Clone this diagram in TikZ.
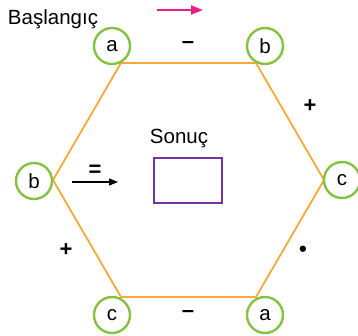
\documentclass[tikz,border=0pt]{standalone}
\usepackage{fontspec}
\setmainfont{Liberation Sans}
\usetikzlibrary{arrows.meta}
\definecolor{hexline}{RGB}{247,169,56}
\definecolor{ring}{RGB}{134,194,66}
\definecolor{result}{RGB}{114,52,160}
\definecolor{dir}{RGB}{232,30,128}

\begin{document}
\begin{tikzpicture}[x=1pt, y=-1pt,
  font=\fontsize{20.5}{23}\selectfont,
  corner/.style={draw=ring, line width=2.4pt, circle, fill=white, minimum size=36pt, inner sep=0pt},
  edge/.style={draw=hexline, line width=1.8pt, line join=miter},
  sign/.style={font=\fontsize{22}{24}\selectfont\bfseries, inner sep=0pt},
  ar/.style={-{Triangle[length=9pt, width=7pt]}, line width=1.2pt}
]
\useasboundingbox (0,0) rectangle (358,335);

% hexagon corners
\coordinate (tl) at (121,63);
\coordinate (tr) at (256,63);
\coordinate (rr) at (324,180);
\coordinate (br) at (256,297);
\coordinate (bl) at (121,297);
\coordinate (ll) at (53,180);
\draw[edge] (tl) -- (tr) -- (rr) -- (br) -- (bl) -- (ll) -- cycle;

% letters on the corners
\node[corner] (ctl) at (112,46) {a};
\node[corner] (ctr) at (265,46) {b};
\node[corner] (cll) at (34,181) {b};
\node[corner] (crr) at (342,180) {c};
\node[corner] (cbl) at (112,315) {c};
\node[corner] (cbr) at (265,315) {a};

% signs on the edges
\node[sign] (stop) at (188,45) {--};
\node[sign] (sright) at (310,106) {+};
\node[sign] (sleft) at (66,250) {+};
\node[sign] (sdot) at (303,251) {\textbullet};
\node[sign] (sbot) at (188,314) {--};

% start and direction
\node (start) at (53,19) {Başlangıç};
\coordinate (dira) at (157,10);
\coordinate (dirb) at (203,10);
\draw[ar, dir, line width=1.8pt, -{Triangle[length=12pt, width=9pt]}] (dira) -- (dirb);

% result
\node (reslabel) at (179,139) {Sonuç};
\node[draw=result, line width=1.6pt, minimum width=68pt, minimum height=45pt, inner sep=0pt] (res) at (188,180.5) {};
\coordinate (eqa) at (72,182);
\coordinate (eqb) at (118,182);
\draw[ar] (eqa) -- node[sign, above=5pt] (eq) {=} (eqb);
\end{tikzpicture}
\end{document}
